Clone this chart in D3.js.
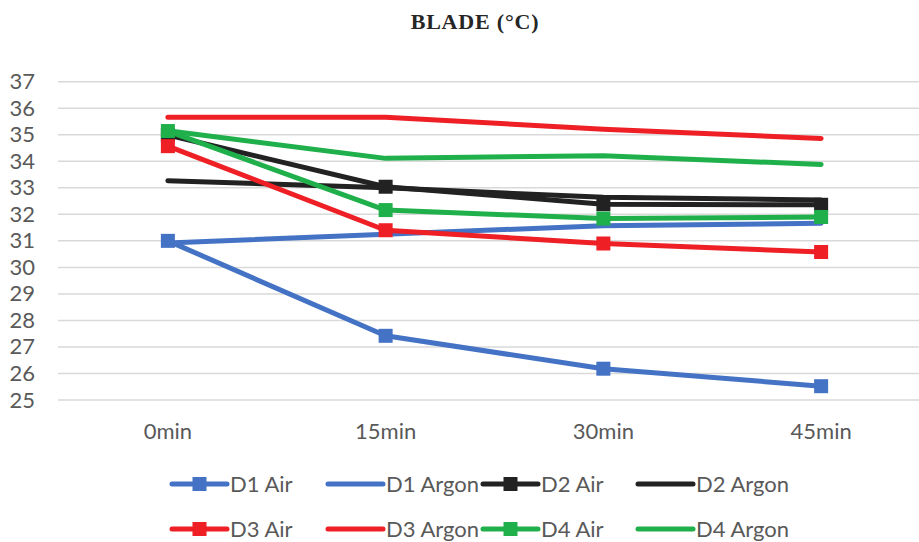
<!DOCTYPE html>
<html>
<head>
<meta charset="utf-8">
<script src="https://cdn.jsdelivr.net/npm/d3@7"></script>
<style>
  body { margin: 0; background: #fff; }
  svg { display: block; }
</style>
</head>
<body>
<svg id="chart" width="919" height="542"></svg>
<script>
// data
var categories = ["0min", "15min", "30min", "45min"];
var yTicks = [25, 26, 27, 28, 29, 30, 31, 32, 33, 34, 35, 36, 37];

var d1Air    = [31.0, 27.42, 26.18, 25.52];
var d1Argon  = [30.92, 31.25, 31.57, 31.66];
var d2Air    = [34.99, 33.04, 32.38, 32.36];
var d2Argon  = [33.27, 33.0, 32.64, 32.54];
var d3Air    = [34.57, 31.4, 30.9, 30.58];
var d3Argon  = [35.66, 35.66, 35.21, 34.86];
var d4Air    = [35.14, 32.16, 31.84, 31.9];
var d4Argon  = [35.15, 34.11, 34.21, 33.88];

var seriesNames = ["D1 Air", "D1 Argon", "D2 Air", "D2 Argon",
                   "D3 Air", "D3 Argon", "D4 Air", "D4 Argon"];
var seriesValues = [d1Air, d1Argon, d2Air, d2Argon, d3Air, d3Argon, d4Air, d4Argon];

var colors = {"D1": "#4472c4", "D2": "#222222", "D3": "#ee1f25", "D4": "#20b04b"};

var series = seriesNames.map(function(n, i) {
  return {
    name: n,
    values: seriesValues[i],
    color: colors[n.slice(0, 2)],
    marker: n.indexOf("Air") >= 0
  };
});

var svg = d3.select("#chart");
var font = "Lato, 'Open Sans', sans-serif";

var x = d3.scaleBand()
  .domain(categories)
  .range([59, 930]);

var y = d3.scaleLinear()
  .domain([25, 37])
  .range([400, 81.7]);

// title
svg.append("text")
  .attr("x", 475)
  .attr("y", 29)
  .attr("text-anchor", "middle")
  .style("font-family", "'Liberation Serif', 'DejaVu Serif', serif")
  .style("font-weight", "bold")
  .style("font-size", "22px")
  .style("letter-spacing", "0.8px")
  .style("fill", "#262626")
  .text("BLADE (°C)");

// grid lines
svg.append("g")
  .attr("class", "grid")
  .selectAll("line")
  .data(yTicks)
  .enter().append("line")
    .attr("x1", 58)
    .attr("x2", 919)
    .attr("y1", function(d) { return y(d); })
    .attr("y2", function(d) { return y(d); })
    .style("stroke", "#d9d9d9")
    .style("stroke-width", 1.5);

// y axis labels
var yAxis = d3.axisLeft(y).tickValues(yTicks).tickSize(0).tickPadding(0);
var gy = svg.append("g")
  .attr("transform", "translate(35,0)")
  .call(yAxis);
gy.select(".domain").remove();
gy.selectAll("text")
  .style("font-family", font)
  .style("font-size", "22px")
  .style("fill", "#595959");

// x axis labels
var xAxis = d3.axisBottom(x).tickSize(0).tickPadding(0);
var gx = svg.append("g")
  .attr("transform", "translate(0,423)")
  .call(xAxis);
gx.select(".domain").remove();
gx.selectAll("text")
  .style("font-family", font)
  .style("font-size", "22px")
  .style("fill", "#595959");

var line = d3.line()
  .x(function(d, i) { return x(categories[i]) + x.bandwidth() / 2; })
  .y(function(d) { return y(d); });

var sq = 14;

// draw in order so later series are on top
var plot = svg.append("g").attr("class", "series");
series.forEach(function(s) {
  var g = plot.append("g");
  g.append("path")
    .datum(s.values)
    .attr("d", line)
    .style("fill", "none")
    .style("stroke", s.color)
    .style("stroke-width", 5)
    .style("stroke-linejoin", "round")
    .style("stroke-linecap", "round");
  if (s.marker) {
    g.selectAll("rect")
      .data(s.values)
      .enter().append("rect")
        .attr("x", function(d, i) { return x(categories[i]) + x.bandwidth() / 2 - sq / 2; })
        .attr("y", function(d) { return y(d) - sq / 2; })
        .attr("width", sq)
        .attr("height", sq)
        .style("fill", s.color);
  }
});

// legend
var legendX = [172, 328, 483, 638];
var legendY = [484, 529];

var legend = svg.append("g").attr("class", "legend")
  .selectAll(".item")
  .data(series)
  .enter().append("g")
    .attr("class", "item")
    .attr("transform", function(d, i) {
      return "translate(" + legendX[i % 4] + "," + legendY[Math.floor(i / 4)] + ")";
    });

legend.append("line")
  .attr("x1", 0)
  .attr("x2", 55)
  .style("stroke", function(d) { return d.color; })
  .style("stroke-width", 5)
  .style("stroke-linecap", "round");

legend.filter(function(d) { return d.marker; })
  .append("rect")
    .attr("x", 27.5 - sq / 2)
    .attr("y", -sq / 2)
    .attr("width", sq)
    .attr("height", sq)
    .style("fill", function(d) { return d.color; });

legend.append("text")
  .attr("x", 58)
  .attr("y", 0)
  .attr("dy", "0.36em")
  .style("font-family", font)
  .style("font-size", "22px")
  .style("fill", "#595959")
  .text(function(d) { return d.name; });
</script>
</body>
</html>
